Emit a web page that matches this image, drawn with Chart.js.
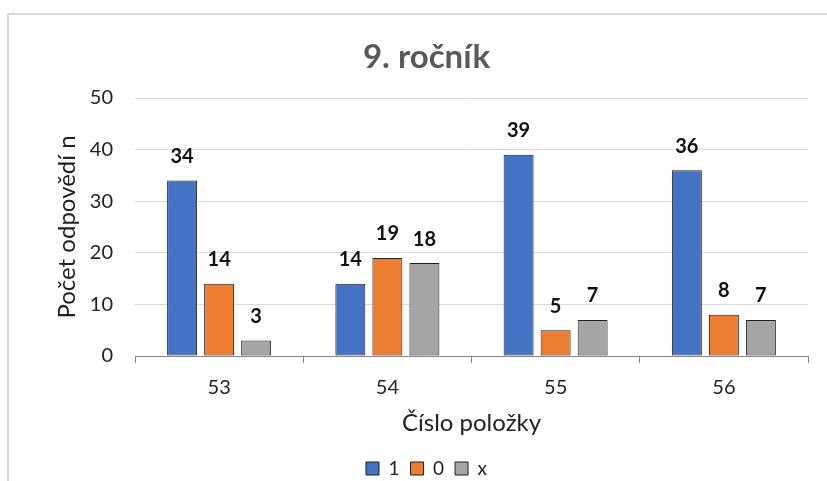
<!DOCTYPE html>
<html>
<head>
<meta charset="utf-8">
<script src="https://cdn.jsdelivr.net/npm/chart.js@4/dist/chart.umd.min.js"></script>
<style>
  html, body { margin: 0; padding: 0; background: #fff; overflow: hidden; }
  #wrap { position: relative; width: 827px; height: 481px; overflow: hidden; }
  #frame { position: absolute; left: 7px; top: 13px; right: -10px; bottom: -10px; border: 2px solid #d9d9d9; }
  canvas { position: absolute; left: 0; top: 0; }
</style>
</head>
<body>
<div id="wrap">
  <div id="frame"></div>
  <canvas id="c" width="827" height="488"></canvas>
</div>
<script>
const categories = ['53', '54', '55', '56'];
const seriesNames = ['1', '0', 'x'];
const values1 = [34, 14, 39, 36];
const values0 = [14, 19, 5, 8];
const valuesX = [3, 18, 7, 7];
const yTicks = [0, 10, 20, 30, 40, 50];

const FONT = "Lato, 'Liberation Sans', sans-serif";
const colors = ['#4472C4', '#ED7D31', '#A5A5A5'];

const labelPlugin = {
  id: 'barLabels',
  afterDatasetsDraw(chart) {
    const ctx = chart.ctx;
    ctx.save();
    ctx.font = "bold 20px " + FONT;
    ctx.fillStyle = '#111';
    ctx.textAlign = 'center';
    ctx.textBaseline = 'middle';
    chart.data.datasets.forEach((ds, i) => {
      chart.getDatasetMeta(i).data.forEach((bar, j) => {
        ctx.fillText(String(ds.data[j]), bar.x, bar.y - 24);
      });
    });
    ctx.restore();
  }
};

new Chart(document.getElementById('c'), {
  type: 'bar',
  data: {
    labels: categories,
    datasets: [
      { label: seriesNames[0], data: values1 },
      { label: seriesNames[1], data: values0 },
      { label: seriesNames[2], data: valuesX }
    ].map((d, i) => Object.assign(d, {
      backgroundColor: colors[i],
      borderColor: '#1f1f1f',
      borderWidth: 1,
      borderSkipped: false,
      barPercentage: 0.81,
      categoryPercentage: 0.66
    }))
  },
  options: {
    responsive: false,
    animation: false,
    devicePixelRatio: 1,
    layout: { padding: { left: 45, right: 19, top: 38, bottom: 0 } },
    plugins: {
      title: {
        display: true,
        text: '9. ročník',
        color: '#595959',
        font: { family: FONT, size: 33, weight: 'bold' },
        padding: { top: 0, bottom: 20.4 }
      },
      legend: {
        display: true,
        position: 'bottom',
        labels: {
          color: '#222',
          font: { family: FONT, size: 19 },
          boxWidth: 13,
          boxHeight: 13,
          padding: 11
        }
      },
      tooltip: { enabled: false }
    },
    scales: {
      x: {
        afterFit(scale) { scale.height = 92; },
        grid: {
          display: true,
          offset: true,
          drawOnChartArea: false,
          drawTicks: true,
          tickLength: 7,
          color: '#868686'
        },
        border: { display: true, color: '#868686', width: 1 },
        ticks: { color: '#222', font: { family: FONT, size: 20 }, padding: 13 },
        title: {
          display: true,
          text: 'Číslo položky',
          color: '#222',
          font: { family: FONT, size: 24 },
          padding: { top: 8.6, bottom: 10.6 }
        }
      },
      y: {
        min: 0,
        max: 50,
        afterBuildTicks(scale) { scale.ticks = yTicks.map(v => ({ value: v })); },
        afterFit(scale) { scale.width = 90; },
        grid: { color: '#d9d9d9', drawTicks: false, lineWidth: 1 },
        border: { display: false },
        ticks: { color: '#222', font: { family: FONT, size: 20 }, padding: 22 },
        title: {
          display: true,
          text: 'Počet odpovědí n',
          color: '#222',
          font: { family: FONT, size: 24 },
          padding: { top: 7.6, bottom: 0 }
        }
      }
    }
  },
  plugins: [labelPlugin]
});
</script>
</body>
</html>
